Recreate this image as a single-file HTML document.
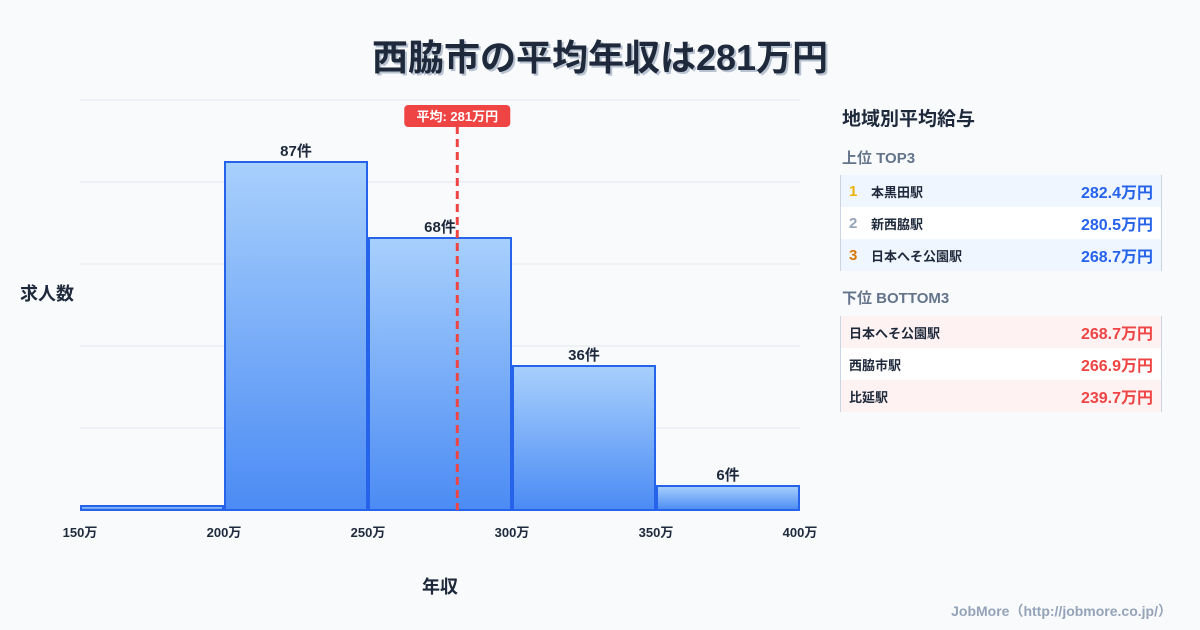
<!DOCTYPE html>
<html><head><meta charset="utf-8">
<style>
body{margin:0;width:1200px;height:630px;background:#f8fafc;font-family:"Liberation Sans","Noto Sans CJK JP",sans-serif;position:relative;overflow:hidden;color:#1e293b}
.title{position:absolute;left:0;width:1200px;top:29px;text-align:center;font-size:36px;font-weight:bold;color:#1e293b;text-shadow:2px 2px 0 #b8c2d0}
.panel{position:absolute;left:840px;top:100px;width:322px}
.ph{font-size:19px;font-weight:bold;margin:4px 0 16px 2px}
.sub{font-size:15px;font-weight:bold;color:#64748b;margin:0 0 8px 2px}
.tbl{border-left:1px solid #cbd5e1;border-right:1px solid #cbd5e1;margin-bottom:16px}
.row{height:32px;display:flex;align-items:center;font-size:13px;font-weight:bold;padding:0 8px}
.row .v{margin-left:auto;font-size:16px}
.rk{width:22px;font-size:15px}
.footer{position:absolute;right:28px;top:601px;font-size:14px;font-weight:bold;color:#94a3b8}
</style></head><body>
<div class="title">西脇市の平均年収は281万円</div>
<svg id="chart" width="830" height="630" style="position:absolute;left:0;top:0">
<defs><linearGradient id="g" x1="0" y1="0" x2="0" y2="1"><stop offset="0" stop-color="#a8d0fc"/><stop offset="1" stop-color="#4b8bf4"/></linearGradient></defs>
</svg>
<div class="panel">
<div class="ph">地域別平均給与</div>
<div class="sub" style="margin-bottom:7px">上位 TOP3</div>
<div class="tbl">
<div class="row" style="background:#eff6ff"><span class="rk" style="color:#eab308">1</span>本黒田駅<span class="v" style="color:#2563eb">282.4万円</span></div>
<div class="row" style="background:#fff"><span class="rk" style="color:#94a3b8">2</span>新西脇駅<span class="v" style="color:#2563eb">280.5万円</span></div>
<div class="row" style="background:#eff6ff"><span class="rk" style="color:#d97706">3</span>日本へそ公園駅<span class="v" style="color:#2563eb">268.7万円</span></div>
</div>
<div class="sub">下位 BOTTOM3</div>
<div class="tbl">
<div class="row" style="background:#fef2f2">日本へそ公園駅<span class="v" style="color:#ef4444">268.7万円</span></div>
<div class="row" style="background:#fff">西脇市駅<span class="v" style="color:#ef4444">266.9万円</span></div>
<div class="row" style="background:#fef2f2">比延駅<span class="v" style="color:#ef4444">239.7万円</span></div>
</div>
</div>
<div class="footer">JobMore（http://jobmore.co.jp/）</div>
<script>
const binStarts=[150,200,250,300,350];
const binEnds=[200,250,300,350,400];
const counts=[1,87,68,36,6];
const countLabels=["","87件","68件","36件","6件"];
const xTicks=[150,200,250,300,350,400];
const meanValue=281;
const NS="http://www.w3.org/2000/svg";
const svg=document.getElementById('chart');
const X0=80,X1=800,Y0=510,PPU=4;
const xs=v=>X0+(v-150)/(400-150)*(X1-X0);
const ys=v=>Y0-v*PPU;
function mk(t,a){const e=document.createElementNS(NS,t);for(const k in a)e.setAttribute(k,a[k]);svg.appendChild(e);return e;}
for(let i=0;i<6;i++){const y=100+i*82;
const l=mk('line',{x1:X0,x2:X1,y1:y,y2:y,stroke:'#e2e8f0','stroke-width':1});

}
counts.forEach((c,i)=>{
const x=xs(binStarts[i])+1,w=xs(binEnds[i])-xs(binStarts[i])-2;
const r=mk('rect',{x:x,y:ys(c),width:w,height:c*PPU,fill:'url(#g)',stroke:'#2563eb','stroke-width':2});


if(countLabels[i]){const t=mk('text',{x:x+w/2,y:ys(c)-6,'text-anchor':'middle','font-size':15,'font-weight':'bold',fill:'#1e293b'});t.textContent=countLabels[i];

}
});
xTicks.forEach(v=>{const t=mk('text',{x:xs(v),y:537,'text-anchor':'middle','font-size':13,'font-weight':'bold',fill:'#1e293b'});t.textContent=v+'万';

});
const mx=xs(meanValue);
const ml=mk('line',{x1:mx,x2:mx,y1:126,y2:510,stroke:'#ef4444','stroke-width':3,'stroke-dasharray':'8,5'});


const mb=mk('rect',{x:mx-53,y:105,width:106,height:22,rx:4,fill:'#ef4444'});


const mt=mk('text',{x:mx,y:121,'text-anchor':'middle','font-size':13,'font-weight':'bold',fill:'#fff'});mt.textContent='平均: '+meanValue+'万円';


const yt=mk('text',{x:20,y:300,'font-size':18,'font-weight':'bold',fill:'#1e293b'});yt.textContent='求人数';


const xt=mk('text',{x:440,y:593,'text-anchor':'middle','font-size':18,'font-weight':'bold',fill:'#1e293b'});xt.textContent='年収';


</script>
</body></html>
